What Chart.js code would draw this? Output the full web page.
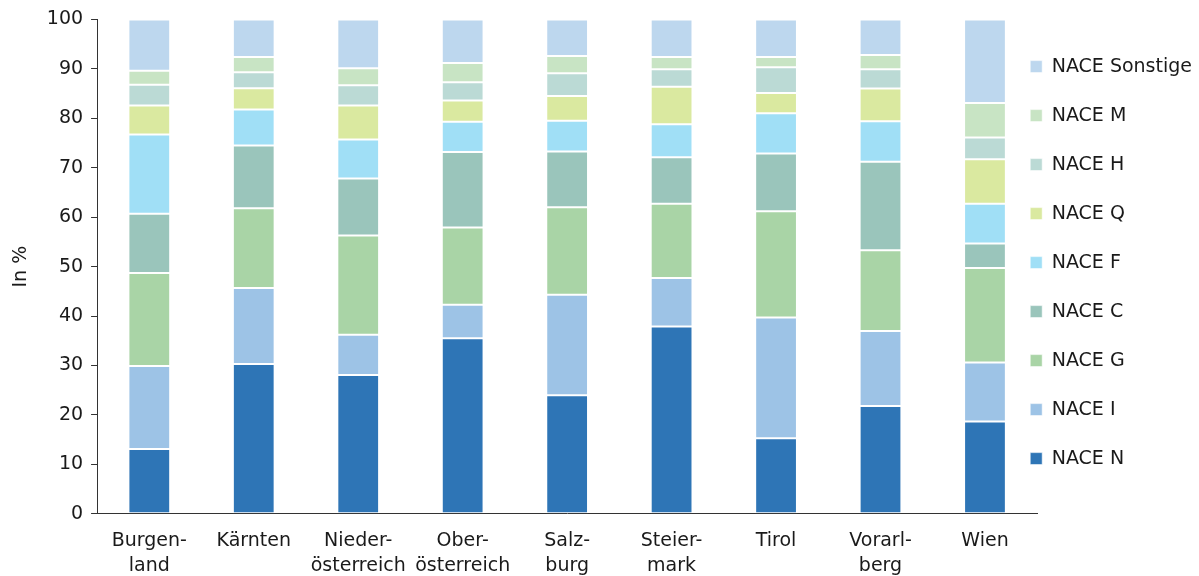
<!DOCTYPE html>
<html>
<head>
<meta charset="utf-8">
<script src="https://cdn.jsdelivr.net/npm/chart.js@4"></script>
<style>
  body { margin: 0; background: #fff; }
  #wrap { width: 1199px; height: 576px; overflow: hidden; }
</style>
</head>
<body>
<div id="wrap"><canvas id="myChart" width="1199" height="576"></canvas></div>
<script>
const regions = [
  ["Burgen-", "land"],
  "Kärnten",
  ["Nieder-", "österreich"],
  ["Ober-", "österreich"],
  ["Salz-", "burg"],
  ["Steier-", "mark"],
  "Tirol",
  ["Vorarl-", "berg"],
  "Wien",
]

// shares in %, bottom to top of each stack
const naceN = [13.1, 30.3, 28.1, 35.5, 24.0, 37.9, 15.3, 21.8, 18.7]
const naceI = [16.8, 15.4, 8.1, 6.8, 20.3, 9.8, 24.4, 15.2, 11.9]
const naceG = [18.8, 16.1, 20.1, 15.6, 17.7, 15.0, 21.5, 16.3, 19.1]
const naceC = [12.0, 12.7, 11.5, 15.3, 11.3, 9.4, 11.7, 17.9, 5.0]
const naceF = [16.0, 7.3, 7.9, 6.1, 6.2, 6.7, 8.1, 8.2, 8.0]
const naceQ = [5.9, 4.3, 6.9, 4.3, 5.0, 7.6, 4.1, 6.6, 9.0]
const naceH = [4.2, 3.2, 4.1, 3.7, 4.6, 3.5, 5.2, 3.9, 4.4]
const naceM = [2.8, 3.1, 3.4, 3.9, 3.5, 2.5, 2.1, 2.9, 7.0]
const naceSonstige = [10.4, 7.6, 9.9, 8.8, 7.4, 7.6, 7.6, 7.2, 16.9]

const yTicks = [0, 10, 20, 30, 40, 50, 60, 70, 80, 90, 100]

const font = { family: "DejaVu Sans", size: 19 }
const textColor = "#1a1a1a"

function series(label, data, color) {
  return {
    label: label,
    data: data,
    backgroundColor: color,
    borderColor: "rgba(255,255,255,0.6)",
    borderWidth: 1,
    borderSkipped: false,
    barPercentage: 0.4,
    categoryPercentage: 1.0,
  }
}

// the plot runs a bit under the legend, like in the original:
// legend claims less width, then its left edge is moved back
const legendOverlap = {
  id: "legendOverlap",
  beforeLayout(chart) {
    const lg = chart.legend
    if (!lg || lg._narrowed) return
    const fit = lg.fit
    lg.fit = function () {
      fit.call(this)
      this.width -= 40
    }
    lg._narrowed = true
  },
  afterLayout(chart) {
    const lg = chart.legend
    lg.left -= 37
    lg.right = chart.width
    lg.width = lg.right - lg.left
    lg.top -= 4
    lg.bottom -= 4
  },
}

const ctx = document.querySelector("#myChart")
new Chart(ctx, {
  type: "bar",
  data: {
    labels: regions,
    datasets: [
      series("NACE N", naceN, "#2E75B6"),
      series("NACE I", naceI, "#9DC3E6"),
      series("NACE G", naceG, "#A9D4A6"),
      series("NACE C", naceC, "#9AC5BB"),
      series("NACE F", naceF, "#A0DFF6"),
      series("NACE Q", naceQ, "#DAE9A0"),
      series("NACE H", naceH, "#BBDAD5"),
      series("NACE M", naceM, "#C8E4C4"),
      series("NACE Sonstige", naceSonstige, "#BDD7EE"),
    ],
  },
  plugins: [legendOverlap],
  options: {
    responsive: false,
    animation: false,
    layout: { padding: { top: 10, right: 0, left: 4, bottom: 0 } },
    plugins: {
      tooltip: { enabled: false },
      legend: {
        position: "right",
        fullSize: false,
        reverse: true,
        labels: {
          font: font,
          color: textColor,
          boxWidth: 12,
          boxHeight: 12,
          padding: 30,
        },
      },
    },
    scales: {
      x: {
        stacked: true,
        grid: { display: false, drawTicks: false },
        border: { display: true, color: "#333", width: 1 },
        ticks: {
          font: { family: "DejaVu Sans", size: 19, lineHeight: 1.32 },
          color: textColor,
          maxRotation: 0,
          padding: 15,
        },
        afterFit: (scale) => {
          // second label line may run to the bottom edge
          scale.height -= 18
        },
      },
      y: {
        stacked: true,
        min: 0,
        max: 100,
        afterBuildTicks: (axis) => {
          axis.ticks = yTicks.map((v) => ({ value: v }))
        },
        grid: {
          display: true,
          drawOnChartArea: false,
          drawTicks: true,
          tickLength: 6,
          color: "#333",
        },
        border: { display: true, color: "#333", width: 1 },
        ticks: { font: font, color: textColor, padding: 8 },
        title: {
          display: true,
          text: "In %",
          font: font,
          color: textColor,
          padding: 6,
        },
      },
    },
  },
})
</script>
</body>
</html>
